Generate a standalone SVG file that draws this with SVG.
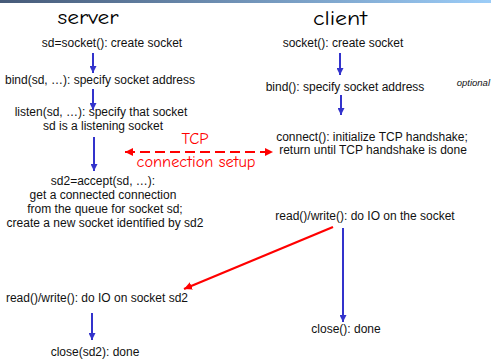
<svg xmlns="http://www.w3.org/2000/svg" width="491" height="360" viewBox="0 0 491 360">
  <defs>
    <linearGradient id="bar" x1="0" y1="0" x2="1" y2="0">
      <stop offset="0" stop-color="#465a78"/>
      <stop offset="1" stop-color="#9ccdf8"/>
    </linearGradient>
    <marker id="headBlue" viewBox="0 0 10 10" refX="10" refY="5" markerUnits="userSpaceOnUse" markerWidth="7" markerHeight="7" orient="auto">
      <path d="M0,0 L10,5 L0,10 Z" fill="#3333cc"/>
    </marker>
    <marker id="headRed" viewBox="0 0 10 10" refX="10" refY="5" markerUnits="userSpaceOnUse" markerWidth="8" markerHeight="8" orient="auto-start-reverse">
      <path d="M0,0 L10,5 L0,10 Z" fill="#ff0000"/>
    </marker>
    <style>
      .t { font-family: "Liberation Sans", Arial, sans-serif; font-size: 12px; fill: #111; text-anchor: middle; }
      .title { font-family: "Comic Sans MS", "Comic Neue", "DejaVu Sans", sans-serif; font-size: 21px; fill: #000; text-anchor: middle; }
      .tcp { font-family: "Comic Sans MS", "Comic Neue", "DejaVu Sans", sans-serif; font-size: 16px; fill: #ff0000; text-anchor: middle; }
      .opt { font-family: "Liberation Sans", Arial, sans-serif; font-size: 9.5px; font-style: italic; fill: #111; text-anchor: end; }
      .flow { stroke: #3333cc; stroke-width: 2; fill: none; marker-end: url(#headBlue); }
      .msg { stroke: #ff0000; stroke-width: 2.2; fill: none; }
    </style>
  </defs>

  <!-- header bar -->
  <rect x="0" y="0" width="491" height="3" fill="url(#bar)"/>

  <!-- column titles -->
  <text class="title" x="88" y="24" textLength="61" lengthAdjust="spacingAndGlyphs">server</text>
  <text class="title" x="340" y="25" textLength="54" lengthAdjust="spacingAndGlyphs">client</text>

  <!-- server side -->
  <g id="srv-socket"><text class="t" x="112" y="47">sd=socket(): create socket</text></g>
  <g id="srv-bind"><text class="t" x="100" y="84">bind(sd, …): specify socket address</text></g>
  <g id="srv-listen">
    <text class="t" x="101" y="116">listen(sd, …): specify that socket</text>
    <text class="t" x="103" y="130">sd is a listening socket</text>
  </g>
  <g id="srv-accept">
    <text class="t" x="103" y="185">sd2=accept(sd, …):</text>
    <text class="t" x="103" y="199">get a connected connection</text>
    <text class="t" x="105" y="213">from the queue for socket sd;</text>
    <text class="t" x="105" y="227">create a new socket identified by sd2</text>
  </g>
  <g id="srv-io"><text class="t" x="97" y="302">read()/write(): do IO on socket sd2</text></g>
  <g id="srv-close"><text class="t" x="95" y="356">close(sd2): done</text></g>

  <!-- client side -->
  <g id="cli-socket"><text class="t" x="343" y="47">socket(): create socket</text></g>
  <g id="cli-bind">
    <text class="t" x="345" y="91">bind(): specify socket address</text>
    <text class="opt" x="490" y="86">optional</text>
  </g>
  <g id="cli-connect">
    <text class="t" x="372" y="141">connect(): initialize TCP handshake;</text>
    <text class="t" x="373" y="154">return until TCP handshake is done</text>
  </g>
  <g id="cli-io"><text class="t" x="365" y="220">read()/write(): do IO on the socket</text></g>
  <g id="cli-close"><text class="t" x="346" y="333">close(): done</text></g>

  <!-- connectors -->
  <g id="connectors">
    <line class="flow" x1="93" y1="53" x2="93" y2="73"/>
    <line class="flow" x1="93" y1="89" x2="93" y2="110"/>
    <line class="flow" x1="94" y1="137" x2="94" y2="171"/>
    <line class="flow" x1="92" y1="313" x2="92" y2="340"/>
    <line class="flow" x1="340" y1="53" x2="340" y2="75"/>
    <line class="flow" x1="341" y1="95" x2="341" y2="115"/>
    <line class="flow" x1="343" y1="228" x2="343" y2="322"/>

    <line class="msg" x1="125" y1="152" x2="273" y2="152" stroke-dasharray="10 5" marker-start="url(#headRed)" marker-end="url(#headRed)"/>
    <line class="msg" x1="333" y1="227" x2="184" y2="289" marker-end="url(#headRed)"/>
  </g>

  <!-- handshake label -->
  <g id="tcp-label">
    <text class="tcp" x="195" y="144" textLength="27" lengthAdjust="spacingAndGlyphs">TCP</text>
    <text class="tcp" x="196" y="167" textLength="119" lengthAdjust="spacingAndGlyphs">connection setup</text>
  </g>
</svg>
